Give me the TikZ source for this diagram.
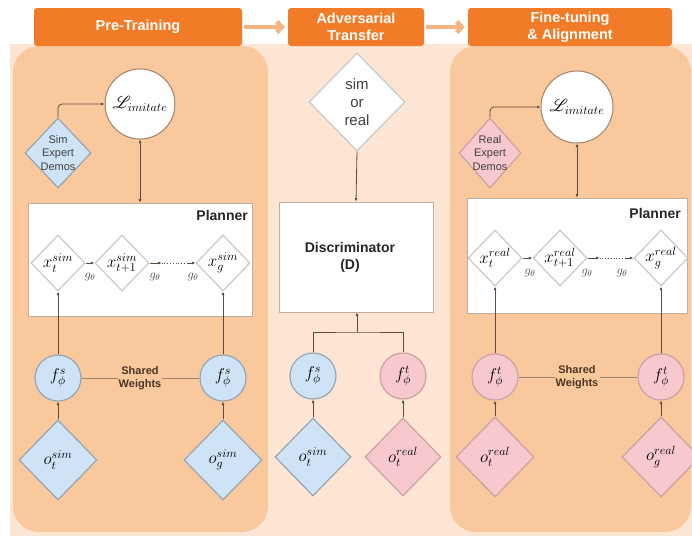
\RequirePackage{fix-cm}
\documentclass[tikz,border=0pt]{standalone}
\usepackage{fontspec}
\setmainfont{Liberation Sans}
\usepackage{mathrsfs}
\usetikzlibrary{shapes.geometric,arrows.meta}

\definecolor{hdrorange}{HTML}{F27B28}
\definecolor{arrorange}{HTML}{F6B485}
\definecolor{panelorange}{HTML}{F9C99D}
\definecolor{bgpeach}{HTML}{FCE6D3}
\definecolor{bluefill}{HTML}{CFE3F6}
\definecolor{blueedge}{HTML}{97A5B3}
\definecolor{pinkfill}{HTML}{F7C8CD}
\definecolor{pinkedge}{HTML}{C8A2A7}
\definecolor{lineclr}{HTML}{5E4B3D}
\definecolor{lossedge}{HTML}{A0836A}
\definecolor{greyedge}{HTML}{C9C9C9}
\definecolor{swline}{HTML}{9B8270}
\definecolor{swtext}{HTML}{4A3525}
\definecolor{planedge}{HTML}{BDAE9E}

\newcommand\mathsz{\fontsize{17}{20}\selectfont}
\newcommand\gsz{\fontsize{12.5}{14}\selectfont}

\tikzset{
  hdr/.style={fill=hdrorange, rounded corners=3pt, text=white, align=center,
    font=\fontsize{14.5}{17}\selectfont\bfseries, inner sep=0pt, minimum height=38},
  hdrarrow/.style={line width=4.5pt, arrorange, -{Straight Barb[length=5pt,width=11pt]}},
  conn/.style={line width=0.8pt, lineclr, -{Latex[length=3.5pt,width=3pt]}},
  biconn/.style={line width=0.8pt, lineclr, {Latex[length=3.5pt,width=3pt]}-{Latex[length=3.5pt,width=3pt]}},
  plain/.style={line width=0.8pt, lineclr},
  swl/.style={line width=0.7pt, swline},
  dia/.style={diamond, inner sep=0pt, line width=1.2pt},
  bluedia/.style={dia, fill=bluefill, draw=blueedge},
  pinkdia/.style={dia, fill=pinkfill, draw=pinkedge},
  whitedia/.style={dia, fill=white, draw=greyedge},
  xdia/.style={dia, fill=white, draw=greyedge, minimum width=54, minimum height=56},
  odia/.style={minimum width=78, minimum height=80},
  mlbl/.style={font=\mathsz, inner sep=0pt},
  demolbl/.style={align=center, font=\fontsize{11}{13.5}\selectfont, text=black!75},
  losscirc/.style={circle, fill=white, draw=lossedge, line width=1pt, minimum size=70,
    inner sep=0pt, font=\mathsz},
  bluecirc/.style={circle, fill=bluefill, draw=blueedge, line width=1.2pt, minimum size=46,
    inner sep=0pt, font=\mathsz},
  pinkcirc/.style={circle, fill=pinkfill, draw=pinkedge, line width=1.2pt, minimum size=46,
    inner sep=0pt, font=\mathsz},
  planbox/.style={rectangle, fill=white, draw=planedge, line width=0.8pt, inner sep=0pt},
  boxlbl/.style={font=\fontsize{14}{17}\selectfont\bfseries, text=black!85, align=center, inner sep=0pt},
  glbl/.style={font=\gsz, text=black!70, inner sep=0pt},
  swlbl/.style={align=center, font=\fontsize{11}{13}\selectfont\bfseries, text=swtext, inner sep=1pt},
}

\begin{document}
\begin{tikzpicture}[x=1pt,y=-1pt]
\useasboundingbox (0,0) rectangle (692,536);

% backdrop and the two stage panels
\fill[bgpeach] (10,44) rectangle (692,536);
\fill[panelorange, rounded corners=26pt] (13,46) rectangle (268,532);
\fill[panelorange, rounded corners=26pt] (450,46) rectangle (691,532);

% stage headers
\node[hdr, minimum width=208] (hPre) at (138,27) {Pre-Training};
\node[hdr, minimum width=136] (hAdv) at (356,27) {Adversarial\\Transfer};
\node[hdr, minimum width=204] (hFine) at (570,27) {Fine-tuning\\\& Alignment};
\draw[hdrarrow] ([xshift=2pt]hPre.east) -- ([xshift=-3pt]hAdv.west);
\draw[hdrarrow] ([xshift=2pt]hAdv.east) -- ([xshift=-3pt]hFine.west);

% ---------------- pre-training ----------------
\node[losscirc] (lossS) at (140,104) {$\mathscr{L}_{imitate}$};
\node[bluedia, minimum width=66, minimum height=70] (demoS) at (58,153) {};
\node[demolbl] (demoSlbl) at (58,153) {Sim\\Expert\\Demos};
\draw[conn, rounded corners=4pt] (demoS.north) |- (lossS.west);

\node[planbox, minimum width=224, minimum height=113] (planS) at (140,259.5) {};
\node[boxlbl, anchor=east] (planSlbl) at (248,215) {Planner};
\draw[biconn] (lossS.south) -- (lossS.south |- planS.north);

\node[xdia] (xs1) at (58,263) {};
\node[xdia] (xs2) at (122,263) {};
\node[xdia] (xsg) at (223,263) {};
\node[mlbl] (xs1t) at (xs1) {$x_t^{sim}$};
\node[mlbl] (xs2t) at (xs2) {$x_{t+1}^{sim}$};
\node[mlbl] (xsgt) at (xsg) {$x_g^{sim}$};
\draw[conn] (xs1.east) -- (xs2.west);
\coordinate (ds1) at ([xshift=12pt]xs2.east);
\coordinate (ds2) at ([xshift=-8pt]xsg.west);
\draw[conn] (xs2.east) -- (ds1);
\draw[plain, dotted] (ds1) -- (ds2);
\draw[conn] (ds2) -- (xsg.west);
\node[glbl] (gs1) at (90,277) {$g_\theta$};
\node[glbl] (gs2) at (155,277) {$g_\theta$};
\node[glbl] (gs3) at (193,277) {$g_\theta$};

\node[bluecirc] (fs1) at (58,378) {$f_\phi^s$};
\node[bluecirc] (fs2) at (223,378) {$f_\phi^s$};
\node[swlbl] (swS) at (140,378) {Shared\\Weights};
\draw[swl] (fs1.east) -- (swS.west);
\draw[swl] (swS.east) -- (fs2.west);
\draw[conn] (fs1.north) -- (xs1.south);
\draw[conn] (fs2.north) -- (xsg.south);

\node[bluedia, odia] (os1) at (58,460) {};
\node[bluedia, odia] (os2) at (223,460) {};
\node[mlbl] (os1t) at (os1) {$o_t^{sim}$};
\node[mlbl] (os2t) at (os2) {$o_g^{sim}$};
\draw[conn] (os1.north) -- (fs1.south);
\draw[conn] (os2.north) -- (fs2.south);

% ---------------- adversarial transfer ----------------
\node[whitedia, minimum width=96, minimum height=98] (simreal) at (357,102) {};
\node[align=center, font=\fontsize{15}{18}\selectfont, text=black!75] (simreallbl) at (357,102) {sim\\or\\real};
\node[planbox, minimum width=154, minimum height=110] (disc) at (356,257) {};
\node[boxlbl] (disclbl) at (350,257) {Discriminator\\(D)};
\draw[conn] (simreal.south) -- (disc.north);

\node[bluecirc] (fsm) at (313,376) {$f_\phi^s$};
\node[pinkcirc] (ftm) at (403,376) {$f_\phi^t$};
\coordinate (jm) at (357,332);
\draw[plain] (fsm.north) |- (jm) -| (ftm.north);
\draw[conn] (jm) -- (jm |- disc.south);

\node[bluedia, minimum width=76, minimum height=78] (osm) at (313,457) {};
\node[pinkdia, minimum width=76, minimum height=78] (orm) at (403,457) {};
\node[mlbl] (osmt) at (osm) {$o_t^{sim}$};
\node[mlbl] (ormt) at (orm) {$o_t^{real}$};
\draw[conn] (osm.north) -- (fsm.south);
\draw[conn] (orm.north) -- (ftm.south);

% ---------------- fine-tuning & alignment ----------------
\node[losscirc, minimum size=72] (lossR) at (577,107) {$\mathscr{L}_{imitate}$};
\node[pinkdia, minimum width=62, minimum height=70] (demoR) at (490,153) {};
\node[demolbl] (demoRlbl) at (490,153) {Real\\Expert\\Demos};
\draw[conn, rounded corners=4pt] (demoR.north) |- (lossR.west);

\node[planbox, minimum width=220, minimum height=115] (planR) at (577,255.5) {};
\node[boxlbl, anchor=east] (planRlbl) at (681,213) {Planner};
\draw[biconn] (lossR.south) -- (lossR.south |- planR.north);

\node[xdia] (xr1) at (495,258) {};
\node[xdia] (xr2) at (560,258) {};
\node[xdia] (xrg) at (661,258) {};
\node[mlbl] (xr1t) at (xr1) {$x_t^{real}$};
\node[mlbl] (xr2t) at (xr2) {$x_{t+1}^{real}$};
\node[mlbl] (xrgt) at (xrg) {$x_g^{real}$};
\draw[conn] (xr1.east) -- (xr2.west);
\coordinate (dr1) at ([xshift=12pt]xr2.east);
\coordinate (dr2) at ([xshift=-8pt]xrg.west);
\draw[conn] (xr2.east) -- (dr1);
\draw[plain, dotted] (dr1) -- (dr2);
\draw[conn] (dr2) -- (xrg.west);
\node[glbl] (gr1) at (530,273) {$g_\theta$};
\node[glbl] (gr2) at (587,273) {$g_\theta$};
\node[glbl] (gr3) at (622,273) {$g_\theta$};

\node[pinkcirc] (ft1) at (495,377) {$f_\phi^t$};
\node[pinkcirc] (ft2) at (661,377) {$f_\phi^t$};
\node[swlbl] (swR) at (577,377) {Shared\\Weights};
\draw[swl] (ft1.east) -- (swR.west);
\draw[swl] (swR.east) -- (ft2.west);
\draw[conn] (ft1.north) -- (xr1.south);
\draw[conn] (ft2.north) -- (xrg.south);

\node[pinkdia, odia] (or1) at (495,457) {};
\node[pinkdia, odia] (or2) at (661,457) {};
\node[mlbl] (or1t) at (or1) {$o_t^{real}$};
\node[mlbl] (or2t) at (or2) {$o_g^{real}$};
\draw[conn] (or1.north) -- (ft1.south);
\draw[conn] (or2.north) -- (ft2.south);
\end{tikzpicture}
\end{document}
